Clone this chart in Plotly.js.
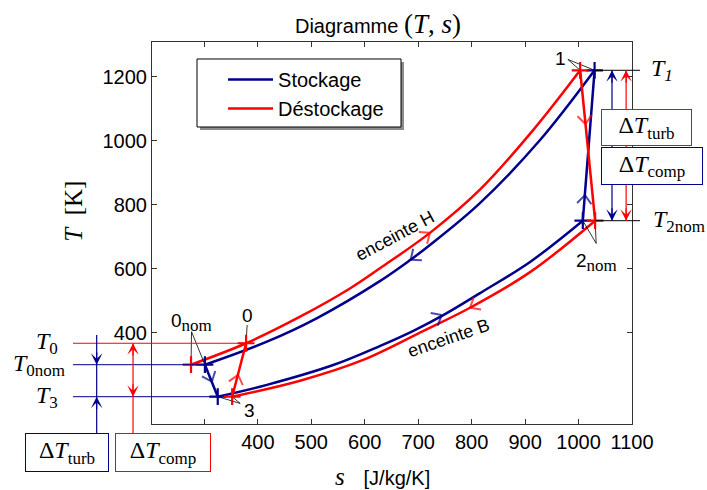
<!DOCTYPE html>
<html><head><meta charset="utf-8">
<script src="https://cdn.plot.ly/plotly-3.0.1.min.js"></script>
<style>html,body{margin:0;padding:0;background:#fff}#chart{width:707px;height:490px}</style>
</head><body><div id="chart"></div>
<script>
// ---------------- DATA ----------------
// Stockage (blue): 0nom -> 3 (turbine), 3 -> 2nom (enceinte B), 2nom -> 1 (compresseur), 1 -> 0nom (enceinte H)
const stockTurbS  = [301, 325];
const stockTurbT  = [300, 200];
const stockLowerS = [325, 417, 541, 629, 691, 747, 815, 910, 1008];
const stockLowerT = [200, 237, 299, 359, 406, 455, 523, 622, 750];
const stockCompS  = [1008, 1030];
const stockCompT  = [750, 1220];
const stockUpperS = [1030, 928, 815, 722, 685, 629, 510, 417, 301];
const stockUpperT = [1220, 1002, 804, 674, 627, 562, 445, 372, 300];
const stockPtS = [301, 325, 1008, 1030];
const stockPtT = [300, 200, 750, 1220];

// Déstockage (red): 0nom/0 -> 1 (enceinte H), 1 -> 2nom (turbine), 2nom -> 3 (enceinte B), 3 -> 0 (compresseur)
const destUpperS = [275, 378, 479, 573, 629, 722, 815, 915, 1003];
const destUpperT = [300, 367, 450, 539, 602, 712, 846, 1033, 1220];
const destTurbS  = [1003, 1031];
const destTurbT  = [1220, 750];
const destLowerS = [1031, 910, 797, 709, 597, 479, 352];
const destLowerT = [750, 590, 478, 405, 315, 250, 200];
const destCompS  = [352, 378];
const destCompT  = [200, 367];
const destPtS = [275, 352, 378, 1003, 1031];
const destPtT = [300, 200, 367, 1220, 750];

// flow-direction arrows: head point and a preceding point on the path
const stockArrHeadS = [314, 744, 1012, 686];
const stockArrHeadT = [247, 455, 830, 628];
const stockArrTailS = [301, 691, 1008, 722];
const stockArrTailT = [300, 406, 750, 674];
const destArrHeadS = [363, 722, 1013, 797];
const destArrHeadT = [268, 712, 1052, 478];
const destArrTailS = [352, 629, 1003, 910];
const destArrTailT = [200, 602, 1220, 590];

// reference temperatures
const T0 = 367, T0nom = 300, T3 = 200, T1 = 1220, T2nom = 750;
// positions (s) of the ΔT double arrows
const sArrRightBlue = 1062.6, sArrRightRed = 1089;
const sArrLeftBlue = 98.5, sArrLeftRed = 166.5;
const tLeftTop = 393;   // top of the left blue arrow line

// point labels
const ptLabels = ['0<sub><span style="font-family:Liberation Serif;font-size:17px">nom</span></sub>', '0', '3', '1',
                  '2<sub><span style="font-family:Liberation Serif;font-size:17px">nom</span></sub>'];
const ptLabelS = [275, 380, 384, 967, 1034];
const ptLabelT = [433, 455, 158, 1258, 619];
// leader lines (label apex -> point)
const leaderS = [276, 275, null, 276, 301, null, 380, 378, null, 367, 325, null, 367, 352, null, 980, 1003, null, 980, 1030, null, 1033, 1008, null, 1033, 1031];
const leaderT = [403, 300, null, 403, 300, null, 424, 367, null, 179, 200, null, 179, 200, null, 1254, 1220, null, 1254, 1220, null, 679, 750, null, 679, 750];

const curveLabels = ['enceinte H', 'enceinte B'];
const curveLabelS = [656, 757];
const curveLabelT = [702, 384];
const curveLabelAngle = [-28, -19];

const xTickVals = [300, 400, 500, 600, 700, 800, 900, 1000, 1100];
const xTickText = ['', '400', '500', '600', '700', '800', '900', '1000', '1100'];
const yTickVals = [400, 600, 800, 1000, 1200];
const yTickText = ['400', '600', '800', '1000', '1200'];

// ---------------- STYLE ----------------
const X_RANGE = [202, 1100];
const Y_RANGE = [114.7, 1308.4];
const BLUE = 'rgb(0,0,140)';
const RED = 'rgb(255,0,0)';
const SANS = 'Liberation Sans, Arial, sans-serif';
const SERIF = 'Liberation Serif, Times New Roman, serif';
const LW = 2.5;
const NB = n => '\u00a0'.repeat(n);
const SUB = s => '<sub><span style="font-size:17px">' + s + '</span></sub>';
const toPaperX = s => (s - X_RANGE[0]) / (X_RANGE[1] - X_RANGE[0]);

function seg(s, t, color, name, show, spline) {
  return {x: s, y: t, type: 'scatter', mode: 'lines', name: name, legendgroup: name,
    showlegend: show, hoverinfo: 'skip',
    line: {color: color, width: LW, shape: spline ? 'spline' : 'linear', smoothing: 1}};
}
function chevTrace(tS, tT, hS, hT, color, ang) {
  const xs = [], ys = [], sz = [];
  for (let i = 0; i < hS.length; i++) { xs.push(tS[i], hS[i]); ys.push(tT[i], hT[i]); sz.push(0, 8); }
  return {x: xs, y: ys, type: 'scatter', mode: 'markers', showlegend: false, hoverinfo: 'skip',
    marker: {symbol: 'line-ns', size: sz, angle: ang, angleref: 'previous', standoff: 5.6,
      color: color, line: {color: color, width: 2}}};
}
const traces = [
  seg(stockLowerS, stockLowerT, BLUE, 'Stockage', true, true),
  seg(stockUpperS, stockUpperT, BLUE, 'Stockage', false, true),
  seg(stockTurbS, stockTurbT, BLUE, 'Stockage', false, false),
  seg(stockCompS, stockCompT, BLUE, 'Stockage', false, false),
  seg(destUpperS, destUpperT, RED, 'Déstockage', true, true),
  seg(destLowerS, destLowerT, RED, 'Déstockage', false, true),
  seg(destTurbS, destTurbT, RED, 'Déstockage', false, false),
  seg(destCompS, destCompT, RED, 'Déstockage', false, false),
  {x: leaderS, y: leaderT, type: 'scatter', mode: 'lines', showlegend: false, hoverinfo: 'skip',
   line: {color: 'black', width: 0.8}},
  {x: stockPtS, y: stockPtT, type: 'scatter', mode: 'markers', showlegend: false, hoverinfo: 'skip',
   marker: {symbol: 'cross-thin', size: 12, line: {color: BLUE, width: 2.2}}},
  {x: destPtS, y: destPtT, type: 'scatter', mode: 'markers', showlegend: false, hoverinfo: 'skip',
   marker: {symbol: 'cross-thin', size: 12, line: {color: RED, width: 2.2}}},
  chevTrace(stockArrTailS, stockArrTailT, stockArrHeadS, stockArrHeadT, BLUE, 40),
  chevTrace(stockArrTailS, stockArrTailT, stockArrHeadS, stockArrHeadT, BLUE, 320),
  chevTrace(destArrTailS, destArrTailT, destArrHeadS, destArrHeadT, RED, 40),
  chevTrace(destArrTailS, destArrTailT, destArrHeadS, destArrHeadT, RED, 320)
];

// ---------------- SHAPES (guide lines, arrow shafts, legend frame) ----------------
const shapes = [];
function hl(p0, p1, t, color) {
  shapes.push({type: 'line', xref: 'paper', yref: 'y', x0: p0, x1: p1, y0: t, y1: t,
    line: {color: color, width: 1}, layer: 'above'});
}
const LEFT_P = -0.1646, RIGHT_P = 1.0167;
hl(LEFT_P, toPaperX(378), T0, RED);
hl(LEFT_P, toPaperX(301), T0nom, BLUE);
hl(LEFT_P, toPaperX(325), T3, BLUE);
hl(toPaperX(1030), RIGHT_P, T1, 'black');
hl(toPaperX(1031), RIGHT_P, T2nom, 'black');
function vl(s, t0, t1, color) {
  shapes.push({type: 'line', xref: 'paper', yref: 'y', x0: toPaperX(s), x1: toPaperX(s), y0: t0, y1: t1,
    line: {color: color, width: 1.2}, layer: 'above'});
}
vl(sArrRightBlue, T2nom, T1, BLUE);
vl(sArrRightRed, T2nom, T1, RED);
vl(sArrLeftBlue, Y_RANGE[0], tLeftTop, BLUE);
vl(sArrLeftRed, Y_RANGE[0], T0, RED);
// continuation below the frame down to the boxes
const BOX_TOP = -0.0236;
[[sArrLeftBlue, BLUE], [sArrLeftRed, RED]].forEach(([s, c]) => {
  shapes.push({type: 'line', xref: 'paper', yref: 'paper', x0: toPaperX(s), x1: toPaperX(s), y0: 0, y1: BOX_TOP,
    line: {color: c, width: 1.2}, layer: 'above'});
});
// legend frame with shadow
shapes.push({type: 'rect', xref: 'paper', yref: 'paper', x0: 0.1, x1: 0.525, y0: 0.7696, y1: 0.9476,
  fillcolor: '#8c8c8c', line: {width: 0}, layer: 'above'});
shapes.push({type: 'rect', xref: 'paper', yref: 'paper', x0: 0.09375, x1: 0.51875, y0: 0.7775, y1: 0.9555,
  fillcolor: 'white', line: {color: 'black', width: 1}, layer: 'above'});

// ---------------- ANNOTATIONS ----------------
const ann = [];
// arrowheads of the ΔT double arrows (dir: +1 up, -1 down)
function head(xref, x, t, dir, color) {
  ann.push({xref: xref, x: x, yref: 'y', y: t, ax: 0, ay: dir * 14, axref: 'pixel', ayref: 'pixel', text: '',
    showarrow: true, arrowhead: 3, arrowsize: 1.6, arrowwidth: 1.2, arrowcolor: color});
}
head('x', sArrRightBlue, T1, 1, BLUE);
head('x', sArrRightBlue, T2nom, -1, BLUE);
head('x', sArrRightRed, T1, 1, RED);
head('x', sArrRightRed, T2nom, -1, RED);
head('paper', toPaperX(sArrLeftBlue), T0nom, -1, BLUE);
head('paper', toPaperX(sArrLeftBlue), T3, 1, BLUE);
head('paper', toPaperX(sArrLeftRed), T0, 1, RED);
head('paper', toPaperX(sArrLeftRed), T3, -1, RED);

function box(x, y, w, h, txt, color) {
  ann.push({xref: 'paper', yref: 'paper', x: x, y: y, xanchor: 'left', yanchor: 'top',
    text: txt, showarrow: false, font: {family: SERIF, size: 24, color: 'black'},
    bgcolor: 'white', bordercolor: color, borderwidth: 1, borderpad: 0, width: w, height: h});
}
box(0.9354, 0.8246, 89, 35, 'Δ<i>T</i>' + SUB('turb'), RED);
box(0.9354, 0.7251, 100, 36, 'Δ<i>T</i>' + SUB('comp'), BLUE);
box(-0.2646, BOX_TOP, 82, 37, 'Δ<i>T</i>' + SUB('turb'), BLUE);
box(-0.0771, BOX_TOP, 94, 37, 'Δ<i>T</i>' + SUB('comp'), RED);

function tlabel(x, t, txt) {
  ann.push({xref: 'paper', yref: 'y', x: x, y: t, xanchor: 'left', yanchor: 'middle', text: txt,
    showarrow: false, font: {family: SERIF, size: 24, color: 'black'}});
}
tlabel(-0.2458, T0, '<i>T</i>' + SUB('0'));
tlabel(-0.2937, T0nom, '<i>T</i>' + SUB('0nom'));
tlabel(-0.2458, T3, '<i>T</i>' + SUB('3'));
tlabel(1.0355, T1, '<i>T' + SUB('1') + '</i>');
tlabel(1.0397, T2nom, '<i>T</i>' + SUB('2nom'));

for (let i = 0; i < ptLabels.length; i++) {
  ann.push({x: ptLabelS[i], y: ptLabelT[i], xref: 'x', yref: 'y', text: ptLabels[i], showarrow: false,
    font: {family: SANS, size: 19, color: 'black'}});
}
for (let i = 0; i < curveLabels.length; i++) {
  ann.push({x: curveLabelS[i], y: curveLabelT[i], xref: 'x', yref: 'y', text: curveLabels[i], showarrow: false,
    textangle: curveLabelAngle[i], font: {family: SANS, size: 18, color: 'black'}});
}

const axisCommon = {ticks: 'inside', ticklen: 5, tickwidth: 1, tickcolor: '#333', mirror: 'ticks',
  showline: true, linecolor: '#333', linewidth: 1, showgrid: false, zeroline: false,
  tickfont: {family: SANS, size: 20, color: 'black'}};

const layout = {
  width: 707, height: 490,
  margin: {l: 152, r: 75, t: 42, b: 66},
  paper_bgcolor: 'white', plot_bgcolor: 'white',
  font: {family: SANS, size: 20, color: 'black'},
  title: {text: 'Diagramme <span style="font-family:Liberation Serif;font-size:27px">(<i>T</i>,' + NB(1) + '<i>s</i>)</span>',
    x: 0.5346, xref: 'container', xanchor: 'center', y: 0.946, yref: 'container', yanchor: 'middle',
    font: {family: SANS, size: 20, color: 'black'}},
  xaxis: Object.assign({range: X_RANGE, tickmode: 'array', tickvals: xTickVals, ticktext: xTickText,
    title: {text: '<i>s</i>' + NB(3) + '<span style="font-family:Liberation Sans;font-size:20px">[J/kg/K]</span>' + NB(3) + '\u200b',
      font: {family: SERIF, size: 25, color: 'black'}, standoff: 15}}, axisCommon),
  yaxis: Object.assign({range: Y_RANGE, tickmode: 'array', tickvals: yTickVals, ticktext: yTickText,
    title: {text: '\u200b' + NB(7) + '<i>T</i>' + NB(2) + '[K]', font: {family: SERIF, size: 25, color: 'black'}, standoff: 12}}, axisCommon),
  showlegend: true,
  legend: {x: 0.148, y: 0.953, xanchor: 'left', yanchor: 'top', bgcolor: 'rgba(0,0,0,0)',
    borderwidth: 0, itemwidth: 45, tracegroupgap: 0, font: {family: SANS, size: 20, color: 'black'}},
  annotations: ann,
  shapes: shapes
};

Plotly.newPlot('chart', traces, layout, {staticPlot: true, displayModeBar: false});
</script>
</body></html>
